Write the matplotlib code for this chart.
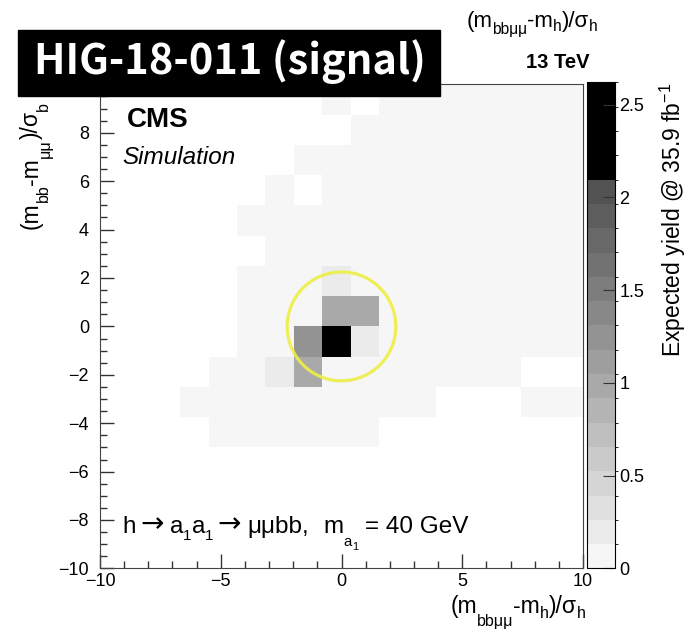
import numpy as np
import matplotlib
matplotlib.use("Agg")
import matplotlib.pyplot as plt
from matplotlib.colors import ListedColormap, BoundaryNorm
from matplotlib.patches import Circle, Rectangle
from matplotlib.ticker import FormatStrFormatter
from matplotlib.transforms import IdentityTransform

plt.rcParams['font.family'] = ['Liberation Sans', 'DejaVu Sans']
plt.rcParams['mathtext.fontset'] = 'custom'
plt.rcParams['mathtext.rm'] = 'Liberation Sans'

# histogram binning (x bins are not aligned with -10)
x_edges = [-10.2, -9.025, -7.85, -6.675, -5.5, -4.325, -3.15, -1.975, -0.8,
           0.375, 1.55, 2.725, 3.9, 5.075, 6.25, 7.425, 8.6, 9.775, 10.95]
y_edges = [-10.0, -8.75, -7.5, -6.25, -5.0, -3.75, -2.5, -1.25, 0.0,
           1.25, 2.5, 3.75, 5.0, 6.25, 7.5, 8.75, 10.0]

# expected yield per bin, rows listed from top (y = 8.75..10) to bottom
yield_rows = [
    [0, 0, 0, 0, 0, 0, 0, 0, .05, 0, .05, .05, .05, .05, .05, .05, .05, .05],
    [0, 0, 0, 0, 0, 0, 0, 0, 0, .05, .05, .05, .05, .05, .05, .05, .05, .05],
    [0, 0, 0, 0, 0, 0, 0, .05, .05, .05, .05, .05, .05, .05, .05, .05, .05, .05],
    [0, 0, 0, 0, 0, 0, .05, 0, .05, .05, .05, .05, .05, .05, .05, .05, .05, .05],
    [0, 0, 0, 0, 0, .05, .05, .05, .05, .05, .05, .05, .05, .05, .05, .05, .05, .05],
    [0, 0, 0, 0, 0, 0, .05, .05, .05, .05, .05, .05, .05, .05, .05, .05, .05, .05],
    [0, 0, 0, 0, 0, .05, .05, .05, .2, .1, .05, .05, .05, .05, .05, .05, .05, .05],
    [0, 0, 0, 0, 0, .05, .05, .1, 1.0, 1.0, .05, .05, .05, .05, .05, .05, .05, .05],
    [0, 0, 0, 0, 0, .05, .05, 1.25, 2.6, .2, .05, .05, .05, .05, .05, .05, .05, .05],
    [0, 0, 0, 0, .05, .05, .2, .95, .1, .05, .05, .05, .05, .05, .05, 0, 0, 0],
    [0, 0, 0, .05, .05, .05, .05, .05, .05, .05, .05, .05, 0, 0, 0, .05, .05, .05],
    [0, 0, 0, 0, .05, .05, .05, .05, .05, .05, 0, 0, 0, 0, 0, 0, 0, 0],
    [0] * 18,
    [0] * 18,
    [0] * 18,
    [0] * 18,
]

z_max = 2.62
n_contours = 20
cbar_ticks = [0, 0.5, 1, 1.5, 2, 2.5]
y_ticks = [-10, -8, -6, -4, -2, 0, 2, 4, 6, 8, 10]
y_ticklabels = ['\u221210', '\u22128', '\u22126', '\u22124', '\u22122', '0', '2', '4', '6', '8', '']

signal_center = (0.0, 0.0)
signal_radius = 2.25

# grey palette, top contours saturate to black like the ROOT plot
greys = [str(v) for v in np.linspace(0.965, 0.32, 16)] + ['black'] * 4
cmap = ListedColormap(greys)
levels = np.linspace(0, z_max, n_contours + 1)
norm = BoundaryNorm(levels, cmap.N)

z = np.array(yield_rows[::-1], dtype=float)
z = np.ma.masked_where(z <= 0, z)

W, H = 688, 633
fig = plt.figure(figsize=(W / 100, H / 100), dpi=100)
ax = fig.add_axes([100 / W, 1 - 568.4 / H, 483 / W, 484 / H])
cax = fig.add_axes([587 / W, 1 - 568.4 / H, 28 / W, 486 / H])

ARROW = ('DejaVu Sans',)


def rich_text(x, y, pieces, size, rotation=0, align='left', **kw):
    """TLatex-like text: pieces (text, scale, drop_px, gap_px[, family]) on one
    baseline. x, y are pixels from the top-left corner."""
    renderer = fig.canvas.get_renderer()
    specs = []
    for p in pieces:
        s, scale, drop, gap = p[:4]
        opts = dict(kw, fontsize=size * scale)
        if len(p) > 4:
            opts['family'] = list(p[4])
        t = fig.text(0, 0, s, transform=IdentityTransform(), **opts)
        specs.append((s, drop, gap, opts, t.get_window_extent(renderer).width))
        t.remove()
    total = sum(sp[4] + sp[2] for sp in specs)
    pos = -total if align == 'right' else 0.0
    y = H - y
    for s, drop, gap, opts, w in specs:
        if rotation == 90:
            xy = (x + drop, y + pos)
        else:
            xy = (x + pos, y - drop)
        fig.text(xy[0], xy[1], s, rotation=rotation, rotation_mode='anchor',
                 ha='left', va='baseline', transform=IdentityTransform(), **opts)
        pos += w + gap


mesh = ax.pcolormesh(x_edges, y_edges, z, cmap=cmap, norm=norm)
ax.add_patch(Circle(signal_center, signal_radius, fill=False,
                    edgecolor='#eeee44', lw=2.3, alpha=0.9, zorder=5))

ax.set_xlim(-10, 10)
ax.set_ylim(-10, 10)
ax.set_xticks([-10, -5, 0, 5, 10])
ax.set_xticks(np.arange(-10, 10.1, 1), minor=True)
ax.set_yticks(y_ticks)
ax.set_yticklabels(y_ticklabels)
ax.set_yticks(np.arange(-10, 10.1, 0.5), minor=True)
ax.tick_params(which='both', direction='in', labelsize=13, color='#333333')
ax.tick_params(which='major', length=10, width=1)
ax.tick_params(which='minor', length=5, width=1)
ax.tick_params(axis='y', pad=8)
for s in ax.spines.values():
    s.set_color('#444444')

x_title = [('(m', 1, 0, 0), ('bbμμ', 0.7, 13, 0), ('-m', 1, 0, 0),
           ('h', 0.7, 5, 0), (')/σ', 1, 0, 0), ('h', 0.7, 5, 0)]
rich_text(586, 613, x_title, 16.5, align='right')
# duplicated axis title peeking in at the top of the screenshot
ghost_title = [('(m', 1, 0, 0), ('bbμμ', 0.7, 7, 0), ('-m', 1, 0, 0),
               ('h', 0.7, 4, 0), (')/σ', 1, 0, 0), ('h', 0.7, 4, 0)]
rich_text(598, 27, ghost_title, 16, align='right')

y_title = [('(m', 1, 0, 0), ('bb', 0.7, 10, 0), ('-m', 1, 0, 0),
           ('μμ', 0.7, 12, 0), (')/σ', 1, 0, 0), ('b', 0.7, 10, 0)]
rich_text(38, 229, y_title, 16.5, rotation=90)

ax.text(0.056, 0.926, 'CMS', transform=ax.transAxes, fontsize=20,
        fontweight='bold', va='center')
ax.text(0.0455, 0.848, 'Simulation', transform=ax.transAxes, fontsize=17.5,
        style='italic', va='center')

decay = [('h', 1, 0, 5), ('\u2192', 1.15, -1, 6, ARROW), ('a', 1, 0, 0),
         ('1', 0.62, 7, 0), ('a', 1, 0, 0), ('1', 0.62, 7, 4),
         ('\u2192', 1.15, -1, 6, ARROW), ('μμbb,', 1, 0, 15), ('m', 1, 0, 0),
         ('a', 0.62, 13, 0), ('1', 0.45, 17, 7), ('= 40 GeV', 1, 0, 0)]
rich_text(122, 533, decay, 17.5)

cb = fig.colorbar(mesh, cax=cax, ticks=cbar_ticks)
cb.ax.yaxis.set_major_formatter(FormatStrFormatter('%g'))
cb.ax.tick_params(direction='in', length=9, labelsize=13, color='#333333', pad=3)
cb.outline.set_linewidth(0.8)
cb.set_label(r'Expected yield @ 35.9 fb$^{-1}$', fontsize=16.5, labelpad=10)
cb.ax.yaxis.label.set_position((0, 1.0))
cb.ax.yaxis.label.set_ha('right')

fig.text(590 / W, 1 - 62 / H, '13 TeV', fontsize=14.5, fontweight='bold',
         ha='right', va='center')

fig.add_artist(Rectangle((18 / W, 1 - 96 / H), 422 / W, 66 / H,
                         transform=fig.transFigure, color='black', zorder=10))
fig.text(230 / W, 1 - 62 / H, 'HIG-18-011 (signal)', color='white',
         fontsize=30, fontweight='bold', family=['Noto Sans CJK KR', 'DejaVu Sans'],
         ha='center', va='center', zorder=11)

fig.savefig('out.png', dpi=100)
